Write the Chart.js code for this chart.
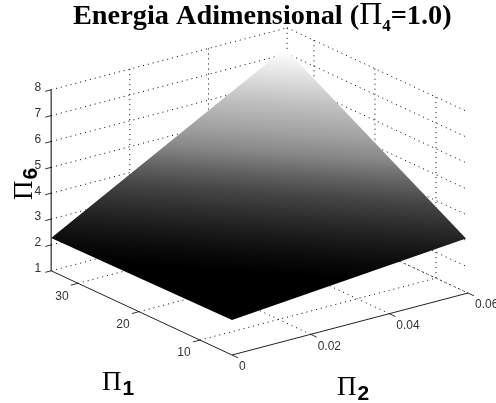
<!DOCTYPE html>
<html>
<head>
<meta charset="utf-8">
<style>
html,body{margin:0;padding:0;background:#fff}
canvas{display:block}
</style>
<script src="https://cdn.jsdelivr.net/npm/chart.js@4"></script>
</head>
<body>
<canvas id="chart" width="496" height="403"></canvas>
<script>
// axis ticks
const pi1Ticks=[10,20,30]
const pi2Ticks=[0,0.02,0.04,0.06]
const pi6Ticks=[1,2,3,4,5,6,7,8]

// axis limits
const pi1Range=[4.75,34.4]
const pi2Range=[0,0.06]
const pi6Range=[1,8]

// surface corners
const surfPi1=[4.75,34.4,34.4,4.75]
const surfPi2=[0,0,0.0595,0.0595]
const surfPi6=[2.35,2.27,7.22,3.13]

// gray ramp of the surface: plot height -> gray level
const rampY=[48,73,100,130,150,170,190,210,230,250,270]
const rampGray=[255,225,192,160,135,100,70,48,28,12,0]

// oblique view of the box, plot units per data unit
function project(p1,p2,p6){
return {
x:232-6.1*(p1-pi1Range[0])+3933*p2,
y:355-2.84*(p1-pi1Range[0])-1033*p2-25.86*(p6-pi6Range[0])
}
}

function seg(a,b,color,dash,width){
return {
data:[project(a[0],a[1],a[2]),project(b[0],b[1],b[2])],
showLine:true,
pointRadius:0,
borderColor:color,
borderWidth:width||1,
borderDash:dash||[],
fill:false
}
}

const GRID="#000"
const DOT=[1,4]
const [p1a,p1b]=pi1Range
const [p2a,p2b]=pi2Range
const [zA,zB]=pi6Range

// top dataset is drawn last, so the surface goes first
let datasets=[]

datasets.push({
data:surfPi1.map((p,i)=>project(p,surfPi2[i],surfPi6[i])),
showLine:true,
pointRadius:0,
borderWidth:0,
tension:0,
fill:"shape",
backgroundColor:(ctx)=>{
if(!ctx.chart.chartArea) return "#777"
let sx=ctx.chart.scales.x
let sy=ctx.chart.scales.y
let y0=rampY[0]
let y1=rampY[rampY.length-1]
// isolines lean a little, the ramp runs slightly to the left
let g=ctx.chart.ctx.createLinearGradient(sx.getPixelForValue(240),sy.getPixelForValue(y0),sx.getPixelForValue(225),sy.getPixelForValue(y1))
rampY.forEach((y,i)=>{
let v=rampGray[i]
g.addColorStop((y-y0)/(y1-y0),`rgb(${v},${v},${v})`)
})
return g
}
})

// solid axes and tick marks
datasets.push(seg([p1b,p2a,zA],[p1b,p2a,zB],"#000"))
datasets.push(seg([p1a,p2a,zA],[p1b,p2a,zA],"#222"))
datasets.push(seg([p1a,p2a,zA],[p1a,p2b,zA],"#222"))
pi6Ticks.forEach(z=>datasets.push(seg([p1b,p2a,z],[p1b,-0.0015,z],"#333")))
pi1Ticks.forEach(p=>datasets.push(seg([p,p2a,zA],[p,-0.0018,zA],"#333")))
pi2Ticks.forEach(p=>datasets.push(seg([p1a,p,zA],[p1a-1,p,zA],"#333")))

// dotted grid: floor and the two back walls
pi1Ticks.forEach(p=>{
datasets.push(seg([p,p2a,zA],[p,p2b,zA],GRID,DOT))
datasets.push(seg([p,p2b,zA],[p,p2b,zB],GRID,DOT))
})
pi2Ticks.slice(1).forEach(p=>{
datasets.push(seg([p1a,p,zA],[p1b,p,zA],GRID,DOT))
datasets.push(seg([p1b,p,zA],[p1b,p,zB],GRID,DOT))
})
pi6Ticks.forEach(z=>{
datasets.push(seg([p1b,p2a,z],[p1b,p2b,z],GRID,DOT))
datasets.push(seg([p1b,p2b,z],[p1a,p2b,z],GRID,DOT))
})

const TICK_FONT="12px 'Liberation Sans'"

function piLabel(c,sub,x,y,rot){
c.save()
c.translate(x,y)
c.rotate(rot||0)
c.textBaseline="alphabetic"
c.textAlign="left"
c.fillStyle="#000"
c.font="27px 'Liberation Serif'"
c.fillText("Π",0,0)
let w=c.measureText("Π").width
c.font="bold 21px 'Liberation Sans'"
c.fillText(sub,w+1,5)
c.restore()
}

const textPlugin={
id:"plotText",
afterDraw(chart){
const c=chart.ctx
const sx=chart.scales.x
const sy=chart.scales.y
const at=(p1,p2,p6,dx,dy)=>{
let q=project(p1,p2,p6)
return [sx.getPixelForValue(q.x)+dx,sy.getPixelForValue(q.y)+dy]
}
c.save()
c.fillStyle="#333"
c.font=TICK_FONT
c.textBaseline="middle"

c.textAlign="right"
pi6Ticks.forEach(z=>{
let [x,y]=at(p1b,p2a,z,-10,-2)
c.fillText(String(z),x,y)
})

c.textAlign="center"
pi1Ticks.forEach(p=>{
let [x,y]=at(p,p2a,zA,-16,13)
c.fillText(String(p),x,y)
})

c.textAlign="left"
pi2Ticks.forEach(p=>{
let [x,y]=at(p1a,p,zA,7,12)
c.fillText(String(p),x,y)
})

// title, in pieces because of the subscript
c.fillStyle="#000"
c.textBaseline="alphabetic"
c.font="bold 28.3px 'Liberation Serif'"
let tx=73
c.fillText("Energia Adimensional (",tx,24)
tx+=c.measureText("Energia Adimensional (").width
c.font="32px 'Liberation Serif'"
c.fillText("Π",tx,24)
tx+=c.measureText("Π").width
c.font="bold 17px 'Liberation Serif'"
c.fillText("4",tx,31)
tx+=c.measureText("4").width
c.font="bold 28.3px 'Liberation Serif'"
c.fillText("=1.0)",tx,24)
c.restore()

piLabel(c,"1",102,390)
piLabel(c,"2",337,395)
piLabel(c,"6",32,200,-Math.PI/2)
}
}

new Chart(document.getElementById("chart"),{
type:"scatter",
data:{datasets:datasets},
options:{
responsive:false,
animation:false,
layout:{padding:0},
plugins:{legend:{display:false},tooltip:{enabled:false},title:{display:false}},
scales:{
x:{display:false,type:"linear",min:0,max:496},
y:{display:false,type:"linear",min:0,max:403,reverse:true}
}
},
plugins:[textPlugin]
})
</script>
</body>
</html>
